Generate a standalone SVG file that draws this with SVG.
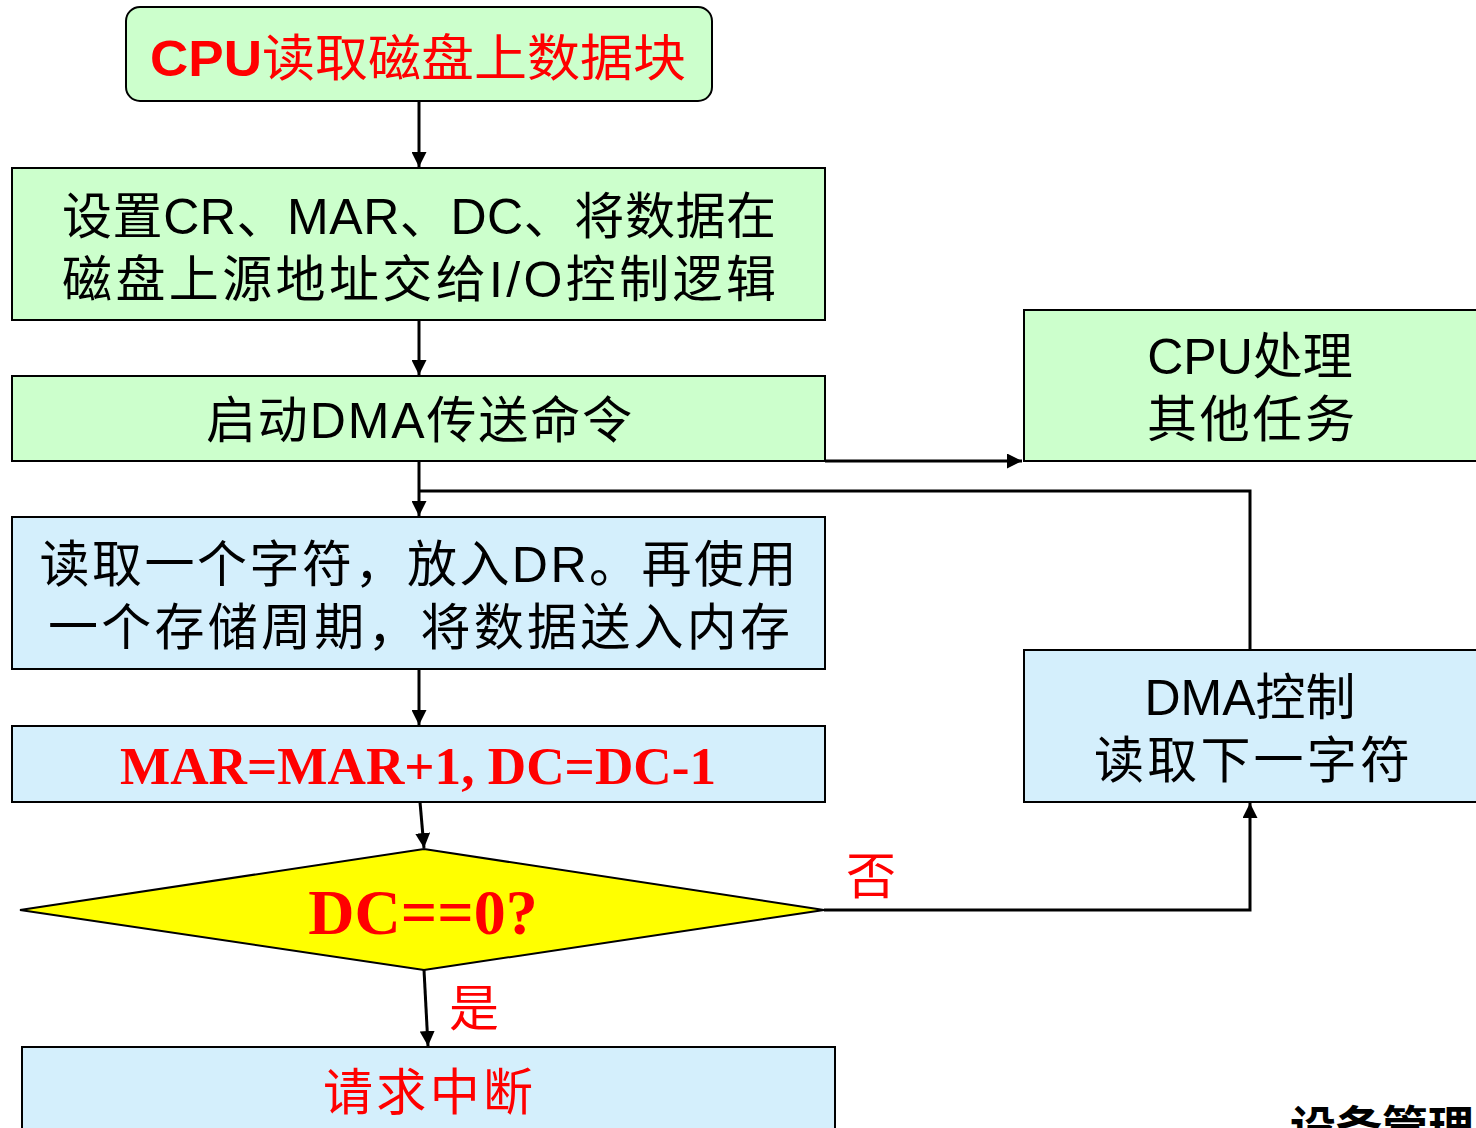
<svg xmlns="http://www.w3.org/2000/svg" width="1476" height="1128" viewBox="0 0 1476 1128">
<defs>
<style>
.g{fill:#ccffcc;stroke:#000;stroke-width:2}
.b{fill:#d4effc;stroke:#000;stroke-width:2}
.t{font-family:"Liberation Sans","Noto Sans CJK SC",sans-serif;font-size:50px;fill:#000;text-anchor:middle}
.tr{font-family:"Liberation Serif","Noto Sans CJK SC",serif;font-weight:bold;fill:#ff0000;text-anchor:middle}
.c{fill:none;stroke:#000;stroke-width:3}
</style>
<marker id="a" viewBox="0 0 10 10" refX="10" refY="5" markerWidth="15" markerHeight="15" orient="auto" markerUnits="userSpaceOnUse">
<path d="M0,0 L10,5 L0,10 z" fill="#000"/>
</marker>
</defs>
<rect width="1476" height="1128" fill="#fff"/>
<g id="connectors">
<line class="c" x1="419" y1="101" x2="419" y2="167" marker-end="url(#a)"/>
<line class="c" x1="419" y1="320" x2="419" y2="375" marker-end="url(#a)"/>
<polyline class="c" points="825,461 1022,461" marker-end="url(#a)"/>
<line class="c" x1="419" y1="461" x2="419" y2="516" marker-end="url(#a)"/>
<polyline class="c" points="1250,650 1250,491 419,491"/>
<line class="c" x1="419" y1="669" x2="419" y2="725" marker-end="url(#a)"/>
<line class="c" x1="420" y1="802" x2="424" y2="848" marker-end="url(#a)"/>
<polyline class="c" points="824,910 1250,910 1250,803" marker-end="url(#a)"/>
<line class="c" x1="424" y1="970" x2="428" y2="1046" marker-end="url(#a)"/>
<text x="871" y="894" font-family="Noto Sans CJK SC,sans-serif" font-size="50" fill="#ff0000" text-anchor="middle">否</text>
<text x="474" y="1026" font-family="Noto Sans CJK SC,sans-serif" font-size="50" fill="#ff0000" text-anchor="middle">是</text>
</g>
<g id="n1">
<rect class="g" x="126" y="7" width="586" height="94" rx="14"/>
<text class="t" x="418" y="76" style="fill:#ff0000" textLength="536" lengthAdjust="spacingAndGlyphs"><tspan font-weight="bold">CPU</tspan>读取磁盘上数据块</text>
</g>
<g id="n2">
<rect class="g" x="12" y="168" width="813" height="152"/>
<text class="t" x="419" y="234" textLength="714">设置CR、MAR、DC、将数据在</text>
<text class="t" x="419" y="297" textLength="714">磁盘上源地址交给I/O控制逻辑</text>
</g>
<g id="n3">
<rect class="g" x="12" y="376" width="813" height="85"/>
<text class="t" x="419" y="438" textLength="426">启动DMA传送命令</text>
</g>
<g id="n4">
<rect class="g" x="1024" y="310" width="470" height="151"/>
<text class="t" x="1250" y="374">CPU处理</text>
<text class="t" x="1251" y="437" textLength="208">其他任务</text>
</g>
<g id="n5">
<rect class="b" x="12" y="517" width="813" height="152"/>
<text class="t" x="418" y="582" textLength="757">读取一个字符，放入DR。再使用</text>
<text class="t" x="419" y="645" textLength="742">一个存储周期，将数据送入内存</text>
</g>
<g id="n6">
<rect class="b" x="12" y="726" width="813" height="76"/>
<text class="tr" x="418" y="784" font-size="53" textLength="596" lengthAdjust="spacingAndGlyphs">MAR=MAR+1, DC=DC-1</text>
</g>
<g id="n7">
<polygon points="20,910 424,849 824,910 424,970" fill="#ffff00" stroke="#000" stroke-width="2"/>
<text class="tr" x="423" y="934" font-size="64">DC==0?</text>
</g>
<g id="n8">
<rect class="b" x="1024" y="650" width="470" height="152"/>
<text class="t" x="1250" y="715">DMA控制</text>
<text class="t" x="1252" y="778" textLength="316">读取下一字符</text>
</g>
<g id="n9">
<rect class="b" x="22" y="1047" width="813" height="100"/>
<text class="t" x="428" y="1110" style="fill:#ff0000" textLength="210">请求中断</text>
</g>
<text x="1290" y="1144" font-family="Noto Sans CJK SC,sans-serif" font-size="46" font-weight="bold" fill="#000">设备管理</text>
</svg>
